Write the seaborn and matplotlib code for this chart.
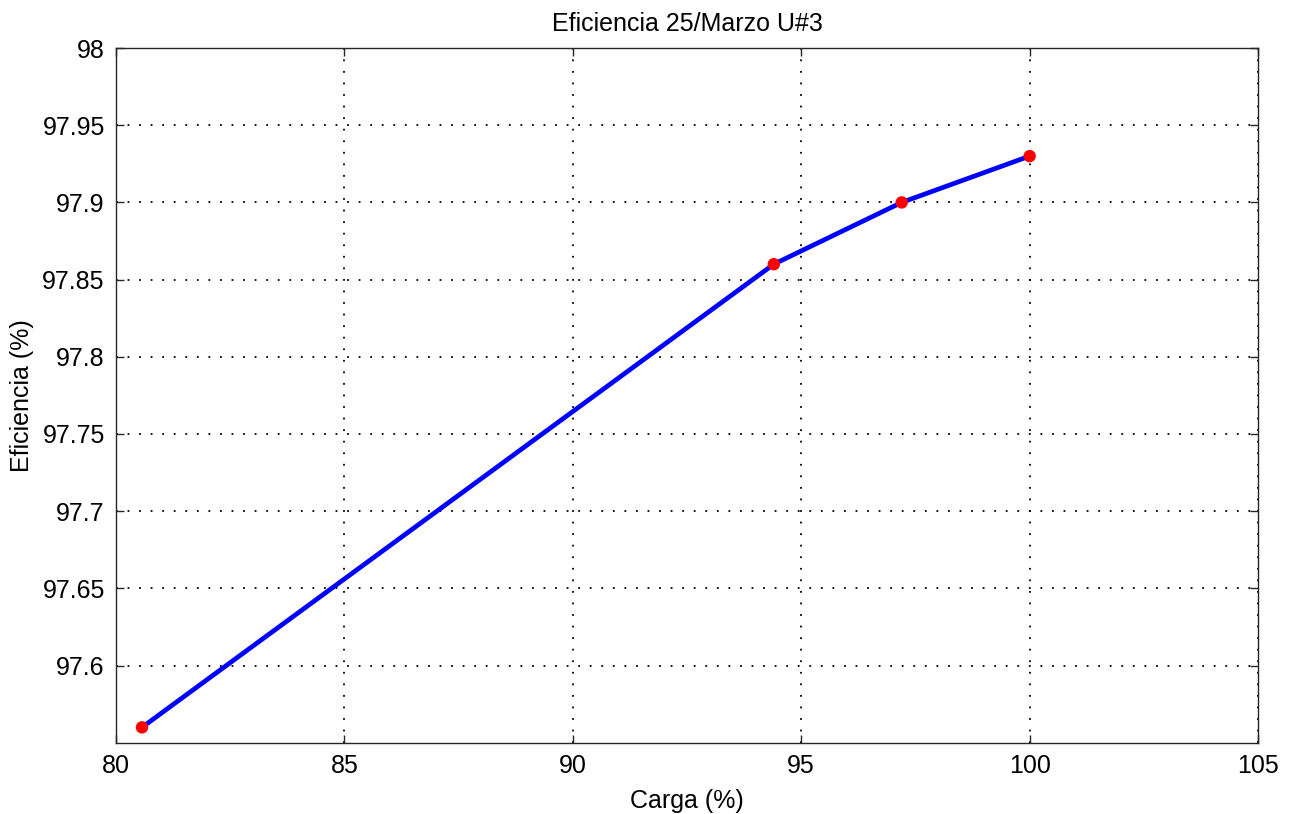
import matplotlib
matplotlib.use("Agg")
import matplotlib.pyplot as plt
import seaborn as sns
import pandas as pd

# Load (%) vs efficiency (%) measurements, unit 3
carga = [80.57, 94.4, 97.2, 100.0]
eficiencia = [97.56, 97.86, 97.90, 97.93]

x_ticks = [80, 85, 90, 95, 100, 105]
y_ticks = [97.6, 97.65, 97.7, 97.75, 97.8, 97.85, 97.9, 97.95, 98]
y_tick_labels = ["97.6", "97.65", "97.7", "97.75", "97.8", "97.85", "97.9", "97.95", "98"]

df = pd.DataFrame({"carga": carga, "eficiencia": eficiencia})

sns.set_style("white")
plt.rcParams["font.family"] = ["Liberation Sans", "DejaVu Sans"]
plt.rcParams["text.color"] = "black"
plt.rcParams["axes.labelcolor"] = "black"

fig = plt.figure(figsize=(13.03, 8.14), dpi=100)
ax = fig.add_axes([0.089, 0.0875, 0.8765, 0.8535])

sns.lineplot(data=df, x="carga", y="eficiencia", ax=ax, color="#0000ff",
             linewidth=3.4, sort=False, zorder=3)
sns.scatterplot(data=df, x="carga", y="eficiencia", ax=ax, color="#ff0000",
                s=80, edgecolor="none", zorder=4)

ax.set_xlim(80, 105)
ax.set_ylim(97.55, 98)
ax.set_xticks(x_ticks)
ax.set_xticklabels([str(t) for t in x_ticks])
ax.set_yticks(y_ticks)
ax.set_yticklabels(y_tick_labels)

ax.grid(True, color="black", linestyle=(0, (1, 5.4)), linewidth=1.3)
ax.tick_params(direction="in", length=6, width=1, colors="#262626",
               labelsize=18, labelcolor="black", top=True, right=True,
               bottom=True, left=True, pad=8)
for sp in ax.spines.values():
    sp.set_color("#262626")
    sp.set_linewidth(1.0)

ax.set_xlabel("Carga (%)", fontsize=18, labelpad=8, color="black")
ax.set_ylabel("Eficiencia (%)", fontsize=18, labelpad=6, color="black")
ax.set_title("Eficiencia 25/Marzo U#3", fontsize=18, pad=12, color="black")

fig.savefig("out.png", dpi=100, facecolor="white")
